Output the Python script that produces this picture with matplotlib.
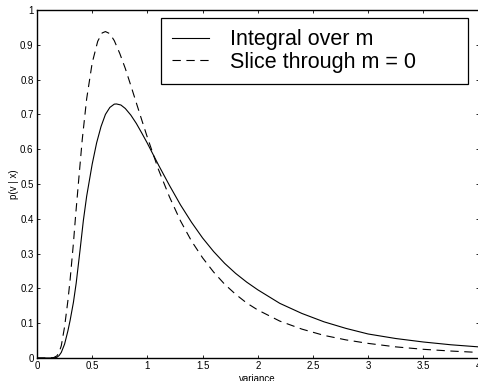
import matplotlib
matplotlib.use("Agg")
import matplotlib.pyplot as plt

plt.rcParams['font.family'] = ['Liberation Sans', 'DejaVu Sans']

# Integral over m (solid)
v_integral = [0.0, 0.10, 0.15, 0.18, 0.20, 0.22, 0.25, 0.28, 0.30, 0.33, 0.355, 0.39,
              0.42, 0.45, 0.50, 0.54, 0.58, 0.62, 0.66, 0.70, 0.72, 0.76, 0.80, 0.85,
              0.90, 0.95, 1.00, 1.10, 1.20, 1.30, 1.40, 1.50, 1.60, 1.70, 1.80, 1.90,
              2.00, 2.20, 2.40, 2.60, 2.80, 3.00, 3.25, 3.50, 3.75, 4.00]
p_integral = [0.0, 0.0, 0.0, 0.002, 0.007, 0.016, 0.04, 0.078, 0.108, 0.16, 0.215, 0.31,
              0.395, 0.465, 0.557, 0.618, 0.665, 0.70, 0.72, 0.7295, 0.73, 0.727, 0.717, 0.698,
              0.674, 0.646, 0.617, 0.555, 0.496, 0.440, 0.390, 0.345, 0.306, 0.272, 0.243, 0.218,
              0.196, 0.157, 0.128, 0.104, 0.085, 0.069, 0.056, 0.046, 0.038, 0.032]

# Slice through m = 0 (dashed)
v_slice = [0.0, 0.10, 0.15, 0.18, 0.20, 0.22, 0.25, 0.28, 0.30, 0.33, 0.35, 0.38, 0.41,
           0.45, 0.50, 0.55, 0.59, 0.62, 0.66, 0.70, 0.75, 0.80, 0.85, 0.90, 0.95,
           1.00, 1.10, 1.20, 1.30, 1.40, 1.50, 1.60, 1.70, 1.80, 1.90, 2.00, 2.20,
           2.40, 2.60, 2.80, 3.00, 3.25, 3.50, 3.75, 4.00]
p_slice = [0.0, 0.0, 0.001, 0.006, 0.016, 0.035, 0.09, 0.165, 0.225, 0.33, 0.41, 0.52, 0.628,
           0.745, 0.848, 0.91, 0.934, 0.938, 0.932, 0.912, 0.875, 0.832, 0.783, 0.733, 0.683,
           0.634, 0.542, 0.463, 0.394, 0.336, 0.288, 0.247, 0.212, 0.183, 0.158, 0.138, 0.106,
           0.083, 0.065, 0.052, 0.042, 0.032, 0.025, 0.020, 0.016]

labels = ['Integral over m', 'Slice through m = 0']
x_ticks = [0, 0.5, 1, 1.5, 2, 2.5, 3, 3.5, 4]
x_ticklabels = ['0', '0.5', '1', '1.5', '2', '2.5', '3', '3.5', '4']
y_ticks = [0, 0.1, 0.2, 0.3, 0.4, 0.5, 0.6, 0.7, 0.8, 0.9, 1]
y_ticklabels = ['0', '0.1', '0.2', '0.3', '0.4', '0.5', '0.6', '0.7', '0.8', '0.9', '1']

W, H = 478, 381
fig = plt.figure(figsize=(W / 100, H / 100), dpi=100)
ax = fig.add_axes([37 / W, 23 / H, 441.5 / W, 348 / H])

ax.plot(v_integral, p_integral, color='black', lw=0.8, label=labels[0])
ax.plot(v_slice, p_slice, color='black', lw=0.8, dashes=(7.5, 5), label=labels[1])

ax.set_xlim(0, 4)
ax.set_ylim(0, 1)
ax.set_xticks(x_ticks)
ax.set_xticklabels(x_ticklabels)
ax.set_yticks(y_ticks)
ax.set_yticklabels(y_ticklabels)
ax.tick_params(direction='in', length=2.5, width=0.6, top=True, right=True,
               labelsize=7, pad=2.5)
for s in ax.spines.values():
    s.set_linewidth(1.0)

ax.set_xlabel('variance', fontsize=7, labelpad=2)
ax.set_ylabel('p(v | x)', fontsize=7, labelpad=1)

# legend box is wider than its text, like the original
leg = ax.legend(loc='upper left', mode='expand',
                bbox_to_anchor=(161 / W, 1 - 79 / H, 307 / W, 61 / H),
                bbox_transform=fig.transFigure, borderaxespad=0,
                fontsize=15.5, fancybox=False, framealpha=1, edgecolor='black',
                handlelength=1.7, handletextpad=1.0, labelspacing=0.08,
                borderpad=0.52)
leg.get_frame().set_linewidth(0.9)

fig.savefig('out.png', dpi=100)
